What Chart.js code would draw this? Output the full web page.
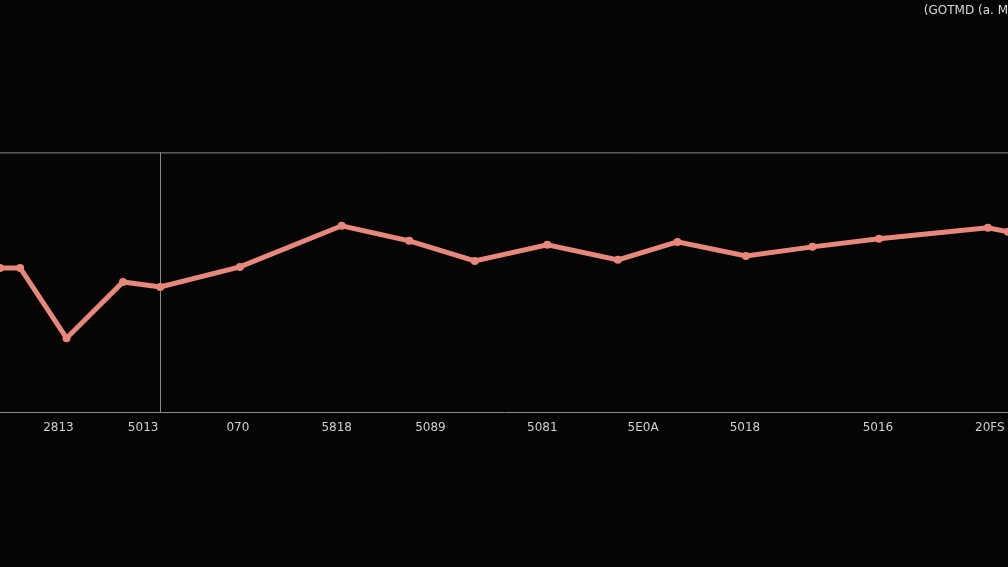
<!DOCTYPE html>
<html>
<head>
<meta charset="utf-8">
<script src="https://cdn.jsdelivr.net/npm/chart.js@4"></script>
<style>
  html, body { margin: 0; padding: 0; background: #050505; }
  #wrap { width: 1008px; height: 567px; }
</style>
</head>
<body>
<div id="wrap"><canvas id="grafica"></canvas></div>
<script>
// posicion a lo largo del eje (0-100) y valor de cada punto
const posiciones = [0, 2, 6.6, 12.2, 15.9, 23.8, 33.9, 40.6, 47.1, 54.3, 61.3, 67.2, 74.0, 80.6, 87.2, 98.0, 100];
const valores = [55.6, 55.6, 28.6, 50.2, 48.3, 56.0, 71.8, 66.0, 58.3, 64.5, 58.7, 65.6, 60.2, 63.7, 66.8, 71.0, 69.5];

const posEtiquetas = [5.8, 14.2, 23.6, 33.4, 42.7, 53.8, 63.8, 73.9, 87.1, 98.2];
const etiquetas = ["2813", "5013", "070", "5818", "5089", "5081", "5E0A", "5018", "5016", "20FS"];

const marcaX = 15.9;
const titulo = "(GOTMD (a. M";

const puntos = posiciones.map((x, i) => ({ x: x, y: valores[i] }));

// lineas guia: borde superior y linea vertical
const guias = {
  id: "guias",
  beforeDatasetsDraw(chart) {
    const { ctx, chartArea, scales } = chart;
    ctx.save();
    ctx.strokeStyle = "#8a8a8a";
    ctx.lineWidth = 1;
    ctx.beginPath();
    ctx.moveTo(0, chartArea.top + 0.5);
    ctx.lineTo(chart.width, chartArea.top + 0.5);
    ctx.moveTo(chartArea.right, chartArea.bottom + 0.5);
    ctx.lineTo(chart.width, chartArea.bottom + 0.5);
    const px = Math.round(scales.x.getPixelForValue(marcaX)) + 0.5;
    ctx.moveTo(px, chartArea.top);
    ctx.lineTo(px, chartArea.bottom);
    ctx.stroke();
    ctx.restore();
  },
};

new Chart(document.getElementById("grafica"), {
  type: "line",
  data: {
    datasets: [
      {
        data: puntos,
        borderColor: "#e8887c",
        backgroundColor: "#e8887c",
        borderWidth: 5,
        pointRadius: 1.5,
        pointHoverRadius: 2,
        tension: 0,
        clip: false,
      },
    ],
  },
  options: {
    responsive: true,
    maintainAspectRatio: false,
    animation: false,
    layout: { autoPadding: false, padding: { top: 0, bottom: 132, left: 0, right: 0 } },
    plugins: {
      legend: { display: false },
      tooltip: { enabled: false },
      title: {
        display: true,
        text: titulo,
        align: "end",
        color: "#d8d8d8",
        font: { family: "DejaVu Sans", size: 12, weight: "normal" },
        padding: { top: 4, bottom: 134 },
      },
    },
    scales: {
      x: {
        type: "linear",
        min: 0,
        max: 100,
        afterBuildTicks(axis) {
          axis.ticks = posEtiquetas.map((v) => ({ value: v }));
        },
        ticks: {
          color: "#d0d0d0",
          font: { family: "DejaVu Sans", size: 12 },
          padding: 0,
          maxRotation: 0,
          autoSkip: false,
          callback: (v, i) => etiquetas[i],
        },
        grid: { display: false },
        border: { color: "#8a8a8a", width: 1 },
      },
      y: {
        display: false,
        min: 0,
        max: 100,
      },
    },
  },
  plugins: [guias],
});
</script>
</body>
</html>
